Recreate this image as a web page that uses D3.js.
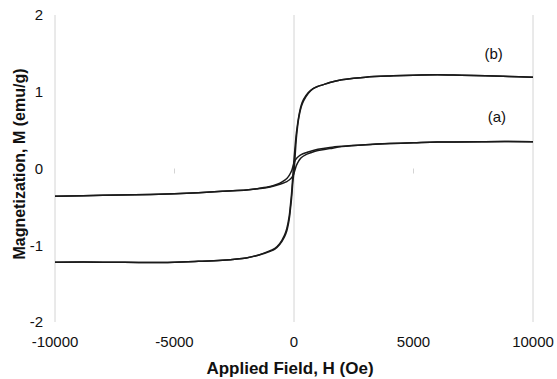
<!DOCTYPE html>
<html>
<head>
<meta charset="utf-8">
<script src="https://cdn.jsdelivr.net/npm/d3@7"></script>
<style>
  html, body { margin: 0; padding: 0; background: #fff; }
  svg { display: block; font-family: "Liberation Sans", Arial, sans-serif; }
</style>
</head>
<body>
<svg id="chart" width="557" height="379"></svg>
<script>
// Hysteresis loops M(H) for two samples, (a) and (b).
// Descending branches run from +10000 Oe to -10000 Oe, ascending branches the other way.

const xTicks = ["-10000", "-5000", "0", "5000", "10000"];
const yTicks = ["-2", "-1", "0", "1", "2"];
const gridX = [-10000, 0, 10000];

// Sample (b)
const fieldB_desc = [10000, 9000, 8000, 7000, 6000, 5000, 4000, 3000, 2500, 2000, 1500, 1200, 1000, 800, 600, 400, 300, 200, 150, 100, 50, 0, -25, -50, -100, -150, -200, -300, -400, -600, -800, -1000, -1500, -2000, -3000, -4000, -5000, -6000, -8000, -10000];
const momentB_desc = [1.19, 1.20, 1.21, 1.215, 1.22, 1.215, 1.205, 1.19, 1.175, 1.155, 1.12, 1.09, 1.07, 1.04, 0.99, 0.90, 0.82, 0.68, 0.58, 0.46, 0.30, 0.12, 0.02, -0.10, -0.32, -0.48, -0.62, -0.78, -0.87, -0.98, -1.04, -1.07, -1.13, -1.165, -1.195, -1.21, -1.22, -1.225, -1.22, -1.22];
const fieldB_asc = [-10000, -8000, -6000, -5000, -4000, -3000, -2000, -1500, -1000, -800, -600, -400, -300, -200, -150, -100, -50, 0, 25, 50, 100, 150, 200, 300, 400, 600, 800, 1000, 1200, 1500, 2000, 2500, 3000, 4000, 5000, 6000, 7000, 8000, 9000, 10000];
const momentB_asc = [-1.22, -1.22, -1.225, -1.22, -1.21, -1.195, -1.165, -1.13, -1.08, -1.05, -0.99, -0.89, -0.81, -0.66, -0.53, -0.38, -0.18, -0.04, 0.06, 0.18, 0.40, 0.55, 0.66, 0.80, 0.88, 0.98, 1.04, 1.07, 1.09, 1.12, 1.155, 1.175, 1.19, 1.205, 1.215, 1.22, 1.215, 1.21, 1.20, 1.19];

// Sample (a)
const fieldA_desc = [10000, 8000, 6000, 5000, 4000, 3000, 2000, 1500, 1000, 700, 500, 300, 200, 100, 50, 0, -50, -100, -200, -300, -500, -700, -1000, -1500, -2000, -3000, -4000, -5000, -6000, -8000, -10000];
const momentA_desc = [0.35, 0.35, 0.345, 0.335, 0.325, 0.31, 0.29, 0.275, 0.25, 0.225, 0.205, 0.18, 0.16, 0.13, 0.11, 0.07, 0.02, -0.03, -0.09, -0.13, -0.175, -0.205, -0.235, -0.26, -0.28, -0.295, -0.315, -0.33, -0.34, -0.35, -0.36];
const fieldA_asc = [-10000, -8000, -6000, -5000, -4000, -3000, -2000, -1500, -1000, -700, -500, -300, -200, -100, -50, 0, 50, 100, 200, 300, 500, 700, 1000, 1500, 2000, 3000, 4000, 5000, 6000, 8000, 10000];
const momentA_asc = [-0.36, -0.35, -0.34, -0.33, -0.315, -0.295, -0.28, -0.265, -0.24, -0.215, -0.195, -0.17, -0.15, -0.12, -0.10, -0.06, -0.01, 0.04, 0.10, 0.14, 0.18, 0.205, 0.235, 0.26, 0.285, 0.31, 0.325, 0.335, 0.345, 0.35, 0.35];

const svg = d3.select("#chart");
const x = d3.scaleLinear().domain([-10000, 10000]).range([55, 533]);
const y = d3.scaleLinear().domain([-2, 2]).range([322, 15]);

// vertical grid / axis lines
svg.append("g").selectAll("line").data(gridX).join("line")
  .attr("x1", d => x(d)).attr("x2", d => x(d))
  .attr("y1", y(2)).attr("y2", y(-2))
  .attr("stroke", "#d4d4d4").attr("stroke-width", 1);

// small tick marks on the H axis (which crosses at M = 0)
svg.append("g").selectAll("line").data([-5000, 5000]).join("line")
  .attr("x1", d => x(d)).attr("x2", d => x(d))
  .attr("y1", y(0)).attr("y2", y(0) + 5)
  .attr("stroke", "#d4d4d4").attr("stroke-width", 1);

// y tick labels
svg.append("g").selectAll("text").data(yTicks).join("text")
  .attr("x", 43).attr("y", d => y(+d)).attr("dy", "0.35em")
  .attr("text-anchor", "end").attr("font-size", 15).attr("fill", "#111")
  .text(d => d);

// x tick labels along the bottom
svg.append("g").selectAll("text").data(xTicks).join("text")
  .attr("x", d => x(+d)).attr("y", 347)
  .attr("text-anchor", "middle").attr("font-size", 15).attr("fill", "#111")
  .text(d => d);

// axis titles
svg.append("text")
  .attr("x", 290).attr("y", 374)
  .attr("text-anchor", "middle").attr("font-size", 17).attr("font-weight", "bold").attr("fill", "#111")
  .text("Applied Field, H (Oe)");
svg.append("text")
  .attr("transform", "translate(25,164) rotate(-90)")
  .attr("text-anchor", "middle").attr("font-size", 16).attr("font-weight", "bold").attr("fill", "#111")
  .text("Magnetization, M (emu/g)");

// curves
const curveLine = d3.line().x(d => x(d[0])).y(d => y(d[1])).curve(d3.curveCatmullRom.alpha(0.5));
const branches = [
  [fieldB_desc, momentB_desc],
  [fieldB_asc, momentB_asc],
  [fieldA_desc, momentA_desc],
  [fieldA_asc, momentA_asc]
];
svg.append("g").selectAll("path").data(branches).join("path")
  .attr("d", b => curveLine(d3.zip(b[0], b[1])))
  .attr("fill", "none").attr("stroke", "#1a1a1a").attr("stroke-width", 1.5);

// sample labels
svg.append("text").attr("x", x(8350)).attr("y", y(1.43)).attr("text-anchor", "middle")
  .attr("font-size", 15).attr("fill", "#111").text("(b)");
svg.append("text").attr("x", x(8490)).attr("y", y(0.61)).attr("text-anchor", "middle")
  .attr("font-size", 15).attr("fill", "#111").text("(a)");
</script>
</body>
</html>
